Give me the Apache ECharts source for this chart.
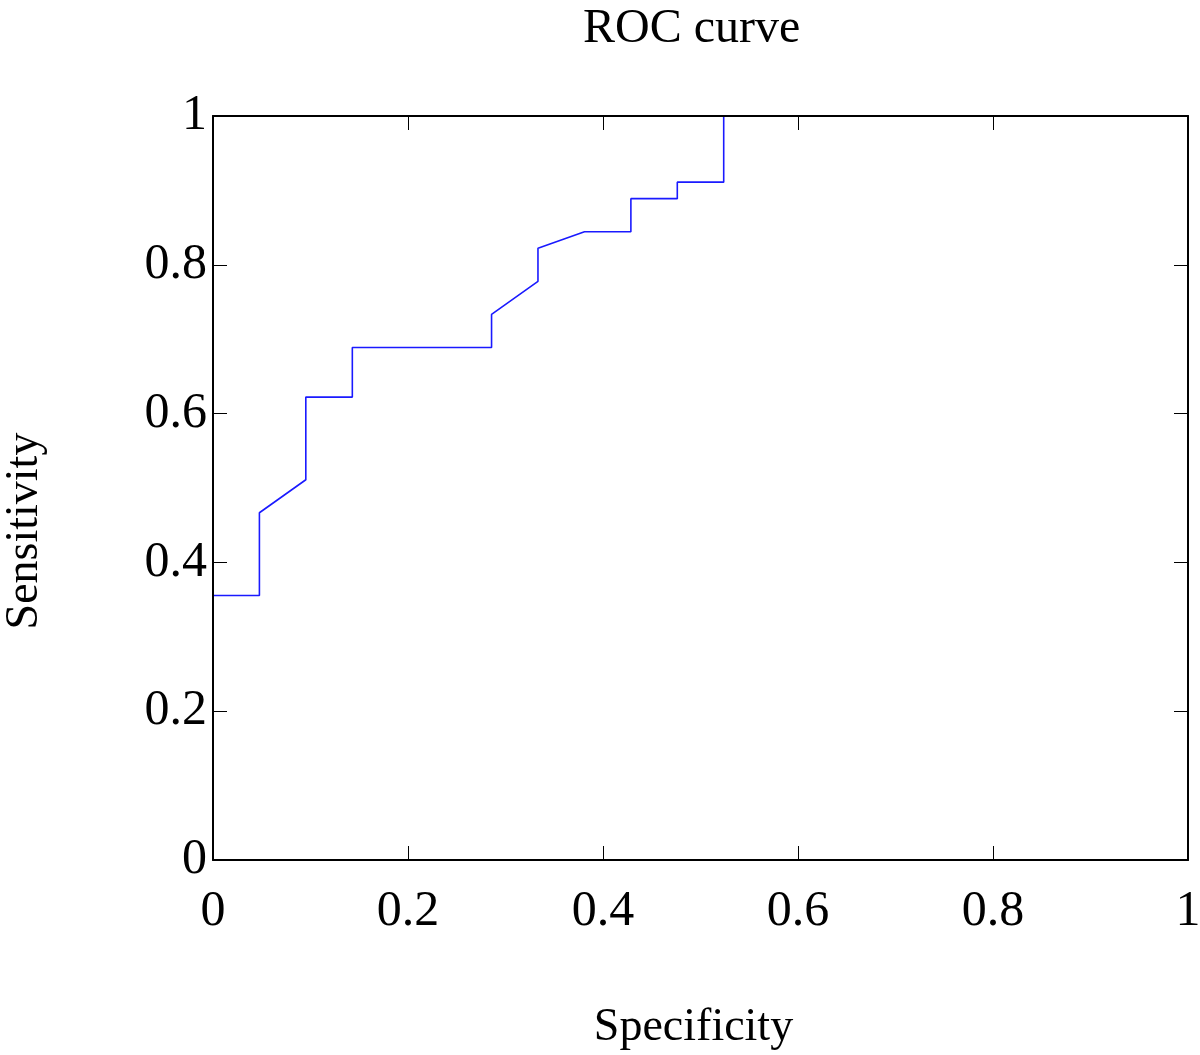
<!DOCTYPE html>
<html><head><meta charset="utf-8">
<script src="https://cdn.jsdelivr.net/npm/echarts@6/dist/echarts.min.js"></script>
<style>html,body{margin:0;padding:0;background:#fff}#c{width:1200px;height:1055px}</style>
</head><body><div id="c"></div>
<script>
// ROC curve points: specificity (x), sensitivity (y)
var specificity = [0, 0.0476, 0.0476, 0.0952, 0.0952, 0.1429, 0.1429, 0.2857, 0.2857, 0.3333, 0.3333, 0.3810, 0.4286, 0.4286, 0.4762, 0.4762, 0.5238, 0.5238, 1];
var sensitivity = [0.3556, 0.3556, 0.4667, 0.5111, 0.6222, 0.6222, 0.6889, 0.6889, 0.7333, 0.7778, 0.8222, 0.8444, 0.8444, 0.8889, 0.8889, 0.9111, 0.9111, 1, 1];
var tickValues = [0, 0.2, 0.4, 0.6, 0.8, 1];

var pts = specificity.map(function (x, i) { return [x, sensitivity[i]]; });
var font = '"Liberation Serif", "Times New Roman", serif';
var chart = echarts.init(document.getElementById('c'));
function axisBase(show) {
  return {
    type: 'value', min: tickValues[0], max: tickValues[tickValues.length - 1], interval: 0.2, z: 5,
    axisLine: { show: true, onZero: false, lineStyle: { color: '#000', width: 2 } },
    axisTick: { show: true, inside: true, length: 14, lineStyle: { color: '#000', width: 1 } },
    splitLine: { show: false },
    axisLabel: show ? {
      show: true, fontFamily: font, fontSize: 50, color: '#000',
      formatter: function (v) { return String(+v.toFixed(1)); }
    } : { show: false }
  };
}
var xb = axisBase(true);
xb.position = 'bottom';
xb.axisLabel.margin = 27;
xb.name = 'Specificity';
xb.nameLocation = 'middle';
xb.nameGap = 145;
xb.nameTextStyle = { fontFamily: font, fontSize: 46, color: '#000', padding: [0, 14, 0, 0] };
var xt = axisBase(false); xt.position = 'top';
var yl = axisBase(true);
yl.position = 'left';
yl.axisLabel.margin = 6;
yl.name = 'Sensitivity';
yl.nameLocation = 'middle';
yl.nameGap = 165;
yl.nameTextStyle = { fontFamily: font, fontSize: 46, color: '#000', padding: [0, 86, 0, 0] };
var yr = axisBase(false); yr.position = 'right';

chart.setOption({
  animation: false,
  backgroundColor: '#fff',
  title: { text: 'ROC curve', left: 578, top: 0, textStyle: { fontFamily: font, fontSize: 48, fontWeight: 'normal', color: '#000' } },
  grid: { left: 213, right: 12, top: 116, bottom: 195, outerBoundsMode: 'none', containLabel: false },
  xAxis: [xb, xt],
  yAxis: [yl, yr],
  series: [{
    type: 'line', data: pts, showSymbol: false, symbol: 'none',
    lineStyle: { color: '#1a1aff', width: 1.6 }, z: 1
  }]
});
</script></body></html>
